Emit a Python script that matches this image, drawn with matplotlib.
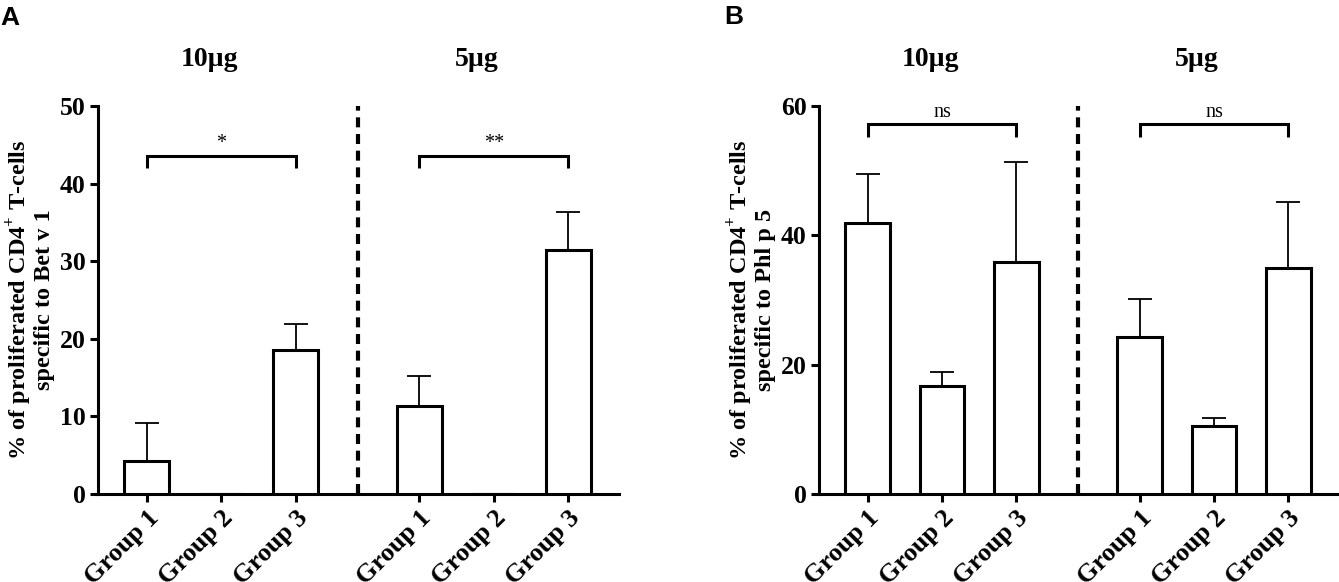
import numpy as np
import matplotlib
matplotlib.use("Agg")
import matplotlib.pyplot as plt
from matplotlib.transforms import ScaledTranslation, blended_transform_factory

# ---------------- data ----------------
groups = ["Group 1", "Group 2", "Group 3", "Group 1", "Group 2", "Group 3"]
doses = ["10µg", "5µg"]

a_means = [4.2, 0.0, 18.6, 11.4, 0.0, 31.45]
a_err_top = [9.1, np.nan, 21.9, 15.15, np.nan, 36.4]
a_sig = ["*", "**"]
a_bracket = [43.6, 43.6]
a_ylabel = "% of proliferated CD4$^{\\mathbf{+}}$ T-cells\nspecific to Bet v 1"
a_yticks = [0, 10, 20, 30, 40, 50]

b_means = [41.9, 16.65, 35.9, 24.3, 10.45, 35.0]
b_err_top = [49.5, 18.8, 51.3, 30.2, 11.7, 45.1]
b_sig = ["ns", "ns"]
b_bracket = [57.2, 57.2]
b_ylabel = "% of proliferated CD4$^{\\mathbf{+}}$ T-cells\nspecific to Phl p 5"
b_yticks = [0, 20, 40, 60]

# ---------------- style ----------------
plt.rcParams["font.family"] = ["Liberation Serif", "DejaVu Serif"]
plt.rcParams["mathtext.fontset"] = "custom"
plt.rcParams["mathtext.rm"] = "Liberation Serif"
plt.rcParams["mathtext.bf"] = "Liberation Serif:bold"

W, H = 1339, 582
fig = plt.figure(figsize=(W / 100, H / 100), dpi=100)

pos = np.array([0, 1, 2, 3.66, 4.66, 5.66])
divider = (pos[2] + pos[3]) / 2
LW = 2.2


def panel(rect, means, err_top, sig, bracket, ylabel, yticks, letter, letter_xy):
    ax = fig.add_axes(rect)
    ax.set_xlim(-0.655, 6.34)
    ax.set_ylim(0, yticks[-1])
    ax.bar(pos, means, width=0.6, facecolor="white", edgecolor="black",
           linewidth=LW, zorder=3)
    et = np.array(err_top, dtype=float)
    m = np.array(means, dtype=float)
    ok = ~np.isnan(et)
    ax.errorbar(pos[ok], m[ok], yerr=[np.zeros(ok.sum()), et[ok] - m[ok]],
                fmt="none", ecolor="black", elinewidth=1.3, capsize=8.6,
                capthick=1.3, zorder=2)
    ax.axvline(divider, color="black", linewidth=3.0, linestyle=(0, (2.4, 1.6)),
               zorder=4)
    span = yticks[-1]
    for k in range(2):
        x0, x1 = pos[3 * k], pos[3 * k + 2]
        yb = bracket[k]
        drop = span * 0.033
        ax.plot([x0, x0, x1, x1], [yb - drop, yb, yb, yb - drop], color="black",
                linewidth=LW, solid_capstyle="butt", solid_joinstyle="miter",
                clip_on=False, zorder=5)
        ax.text((x0 + x1) / 2, yb + span * 0.006, sig[k], ha="center", va="bottom",
                fontsize=14.5, fontweight="normal")
    # dose titles
    tr = blended_transform_factory(ax.transData, fig.transFigure)
    for k, off in zip(range(2), [0.16, 0.23]):
        ax.text(pos[3 * k + 1] - off, 1 - 60 / H, doses[k], transform=tr,
                ha="center", va="center", fontsize=20, fontweight="bold")

    for s in ["top", "right"]:
        ax.spines[s].set_visible(False)
    for s in ["left", "bottom"]:
        ax.spines[s].set_linewidth(LW)
    ax.set_yticks(yticks)
    ax.set_yticklabels([str(t) for t in yticks], fontsize=18.5, fontweight="bold")
    ax.set_xticks(pos)
    ax.set_xticklabels(groups, fontsize=19, fontweight="bold", rotation=45,
                       ha="right", va="top", rotation_mode="anchor")
    off = ScaledTranslation(8 / 100, -3 / 100, fig.dpi_scale_trans)
    for lab in ax.get_xticklabels():
        lab.set_transform(lab.get_transform() + off)
    ax.tick_params(axis="both", length=6, width=LW, pad=3)
    ax.set_ylabel(ylabel, fontsize=17.5, fontweight="bold", linespacing=1.0)
    ax.yaxis.set_label_coords(-0.083, 0.5)
    fig.text(letter_xy[0] / W, 1 - letter_xy[1] / H, letter, family="Liberation Sans",
             fontsize=19, fontweight="bold", ha="left", va="top")
    return ax


panel([98 / W, 1 - 494 / H, (619 - 98) / W, (494 - 106) / H],
      a_means, a_err_top, a_sig, a_bracket, a_ylabel, a_yticks, "A", (0, 6))
panel([819 / W, 1 - 494 / H, (1339 - 819) / W, (494 - 106) / H],
      b_means, b_err_top, b_sig, b_bracket, b_ylabel, b_yticks, "B", (724, 5))

fig.savefig("out.png", dpi=100, facecolor="white")
